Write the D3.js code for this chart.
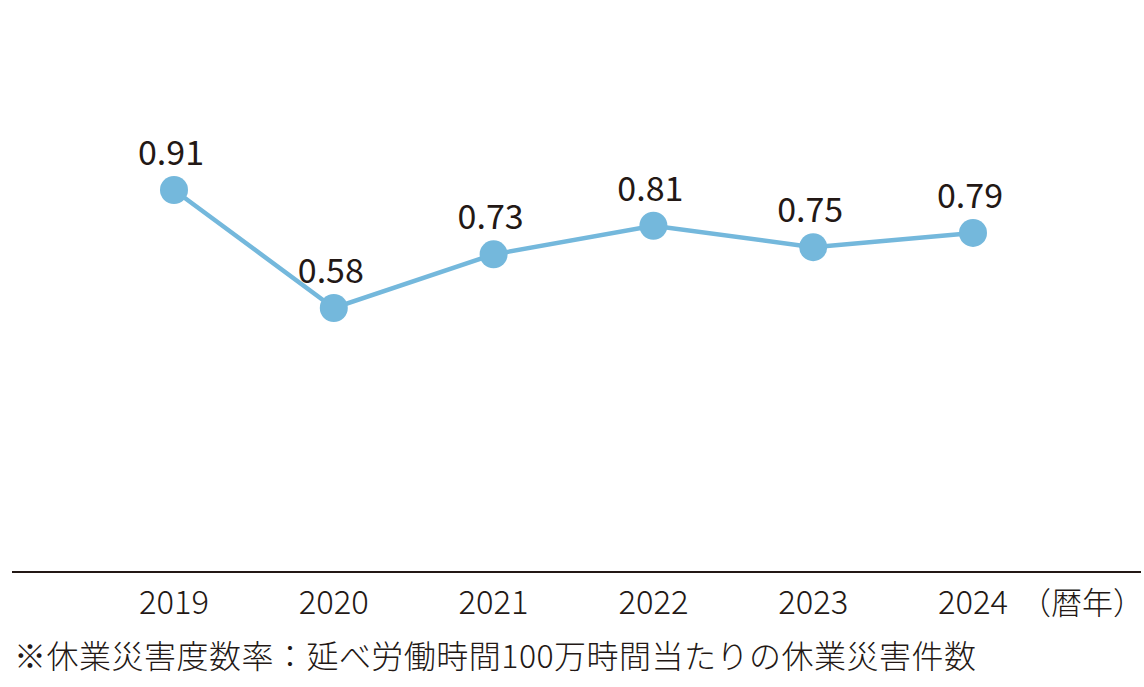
<!DOCTYPE html>
<html><head><meta charset="utf-8">
<script src="https://cdn.jsdelivr.net/npm/d3@7"></script>
<style>
html,body{margin:0;padding:0;background:#fff;}
svg text{font-family:"Noto Sans CJK JP","Noto Sans",sans-serif;fill:#231815;font-weight:300;}
svg text.val{font-weight:400;}
</style></head>
<body>
<svg id="chart" width="1144" height="687"></svg>
<script>
const years = ["2019","2020","2021","2022","2023","2024"];
const rates = [0.91, 0.58, 0.73, 0.81, 0.75, 0.79];
const valueLabels = ["0.91","0.58","0.73","0.81","0.75","0.79"];
const unitLabel = "（暦年）";
const footnote = "※休業災害度数率：延べ労働時間100万時間当たりの休業災害件数";

const svg = d3.select("#chart");
const x = d3.scalePoint().domain(years).range([174, 973]);
const y = d3.scaleLinear().domain([0, 1]).range([515.4, 157.8]);

// baseline
svg.append("line").attr("x1", 12).attr("x2", 1141).attr("y1", 572).attr("y2", 572)
  .attr("stroke", "#231815").attr("stroke-width", 2);

// year labels
svg.selectAll("text.year").data(years).enter().append("text")
  .attr("class","year").attr("x", d => x(d)).attr("y", 614)
  .attr("text-anchor","middle").attr("font-size", 33)
  .attr("textLength", 70).attr("lengthAdjust","spacingAndGlyphs").text(d => d);

svg.append("text").attr("x", 1082).attr("y", 614).attr("text-anchor","middle")
  .attr("font-size", 31).text(unitLabel);

// line
const data = years.map((yr,i) => ({yr, v: rates[i], lab: valueLabels[i]}));
svg.append("path").datum(data)
  .attr("d", d3.line().x(d => x(d.yr)).y(d => y(d.v)))
  .attr("fill","none").attr("stroke","#74b8dc").attr("stroke-width",4.5);

svg.selectAll("circle.pt").data(data).enter().append("circle")
  .attr("class","pt").attr("cx", d => x(d.yr)).attr("cy", d => y(d.v))
  .attr("r", 14).attr("fill","#74b8dc");

svg.selectAll("text.val").data(data).enter().append("text")
  .attr("class","val").attr("x", d => x(d.yr) - 3).attr("y", d => y(d.v) - 25)
  .attr("text-anchor","middle").attr("font-size", 34).text(d => d.lab);

svg.append("text").attr("x", 14).attr("y", 668).attr("font-size", 32)
  .attr("textLength", 962).attr("lengthAdjust","spacing").text(footnote);
</script>
</body></html>
